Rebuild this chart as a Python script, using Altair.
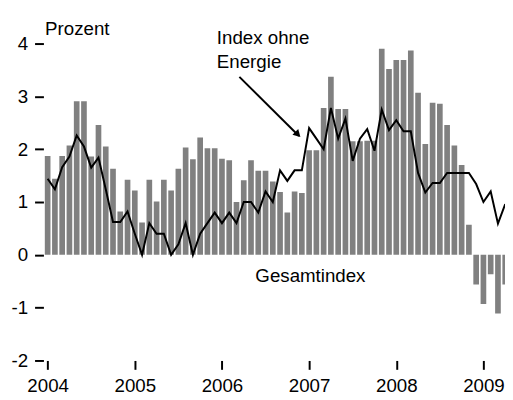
import altair as alt
import pandas as pd

# Monthly data Jan 2004 .. Apr 2009 (month index 0 = Jan 2004)
gesamtindex = [
    1.87, 1.44, 1.87, 2.07, 2.91, 2.91, 1.86, 2.46, 2.05, 1.63, 0.82, 1.42,   # 2004
    1.22, 0.61, 1.42, 1.01, 1.42, 1.22, 1.63, 2.03, 1.81, 2.22, 2.02, 2.02,   # 2005
    1.82, 1.79, 1.00, 1.41, 1.79, 1.59, 1.59, 1.39, 1.19, 0.80, 1.20, 1.17,   # 2006
    1.98, 1.98, 2.78, 3.37, 2.76, 2.76, 2.15, 2.15, 2.16, 2.16, 3.90, 3.52,   # 2007
    3.69, 3.69, 3.87, 3.07, 2.10, 2.88, 2.86, 2.46, 2.07, 1.70, 0.57, -0.56,  # 2008
    -0.93, -0.37, -1.11, -0.56,                                               # 2009
]
ohne_energie = [
    1.44, 1.24, 1.66, 1.86, 2.26, 2.05, 1.65, 1.84, 1.24, 0.62, 0.62, 0.82,   # 2004
    0.40, 0.00, 0.60, 0.40, 0.40, 0.00, 0.20, 0.60, 0.00, 0.40, 0.60, 0.80,   # 2005
    0.60, 0.80, 0.60, 1.00, 1.00, 0.80, 1.20, 1.00, 1.60, 1.40, 1.60, 1.60,   # 2006
    2.40, 2.20, 2.00, 2.78, 2.20, 2.58, 1.78, 2.20, 2.38, 1.97, 2.75, 2.36,   # 2007
    2.55, 2.34, 2.34, 1.55, 1.18, 1.36, 1.36, 1.55, 1.55, 1.55, 1.55, 1.34,   # 2008
    1.00, 1.20, 0.59, 0.96,                                                   # 2009
]
year_ticks = [0, 12, 24, 36, 48, 60]
year_labels = ["2004", "2005", "2006", "2007", "2008", "2009"]
y_ticks = [-2, -1, 0, 1, 2, 3, 4]

# annotations (month index, value)
ann_text = ["Prozent", "Index ohne", "Energie", "Gesamtindex"]
ann_x = [-0.35, 23.3, 23.3, 28.6]
ann_y = [4.16, 3.99, 3.53, -0.51]
arrow_x = [26.4]
arrow_y = [3.37]
arrow_x2 = [34.6]
arrow_y2 = [2.25]
head_x = [34.45]
head_y = [2.28]

FONT = "Liberation Sans Narrow, Arial Narrow, Liberation Sans, Arial, sans-serif"
FS = 19

n = len(gesamtindex)
df = pd.DataFrame({
    "m": list(range(n)),
    "g": gesamtindex,
    "k": ohne_energie,
})
df["m0"] = df["m"] - 0.39
df["m1"] = df["m"] + 0.39

label_expr = "{" + ",".join(f"'{v}':'{l}'" for v, l in zip(year_ticks, year_labels)) + "}[datum.value]"

xscale = alt.Scale(domain=[-0.58, 62.97], nice=False, zero=False)
yscale = alt.Scale(domain=[-2, 4], nice=False)

xaxis = alt.Axis(values=year_ticks, labelExpr=label_expr, title=None, grid=False,
                 domain=False, tickSize=9, tickWidth=2, tickColor="black",
                 labelFont=FONT, labelFontSize=FS, labelColor="black",
                 labelPadding=8, labelFlush=False, labelOverlap=False)
yaxis = alt.Axis(values=y_ticks, labelExpr="toString(datum.value)", title=None,
                 grid=False, domain=False,
                 tickSize=9, tickWidth=2, tickColor="black",
                 labelFont=FONT, labelFontSize=FS, labelColor="black",
                 labelPadding=7)

bars = alt.Chart(df).mark_bar(color="#808080", clip=True).encode(
    x=alt.X("m0:Q", scale=xscale, axis=xaxis),
    x2="m1:Q",
    y=alt.Y("g:Q", scale=yscale, axis=yaxis),
    y2=alt.datum(0),
)

line = alt.Chart(df).mark_line(color="black", strokeWidth=2, clip=True).encode(
    x=alt.X("m:Q", scale=xscale),
    y=alt.Y("k:Q", scale=yscale),
)

ann_df = pd.DataFrame({"x": ann_x, "y": ann_y, "t": ann_text})
texts = alt.Chart(ann_df).mark_text(align="left", baseline="alphabetic", font=FONT,
                                    fontSize=FS, color="black").encode(
    x=alt.X("x:Q", scale=xscale),
    y=alt.Y("y:Q", scale=yscale),
    text="t:N",
)

arr_df = pd.DataFrame({"x": arrow_x, "y": arrow_y, "x2": arrow_x2, "y2": arrow_y2})
arrow = alt.Chart(arr_df).mark_rule(color="black", strokeWidth=2).encode(
    x=alt.X("x:Q", scale=xscale), y=alt.Y("y:Q", scale=yscale),
    x2="x2:Q", y2="y2:Q",
)
head_df = pd.DataFrame({"x": head_x, "y": head_y})
head = alt.Chart(head_df).mark_point(shape="triangle-right", filled=True, color="black",
                                     size=70, angle=45, opacity=1).encode(
    x=alt.X("x:Q", scale=xscale), y=alt.Y("y:Q", scale=yscale),
)

chart = alt.layer(bars, line, texts, arrow, head).properties(
    width=469, height=322,
    autosize=alt.AutoSizeParams(type="none"),
    padding={"left": 36, "top": 33, "right": 0, "bottom": 35},
).configure_view(stroke=None)

chart.save("out.html", embed_options={"renderer": "svg", "actions": False})
